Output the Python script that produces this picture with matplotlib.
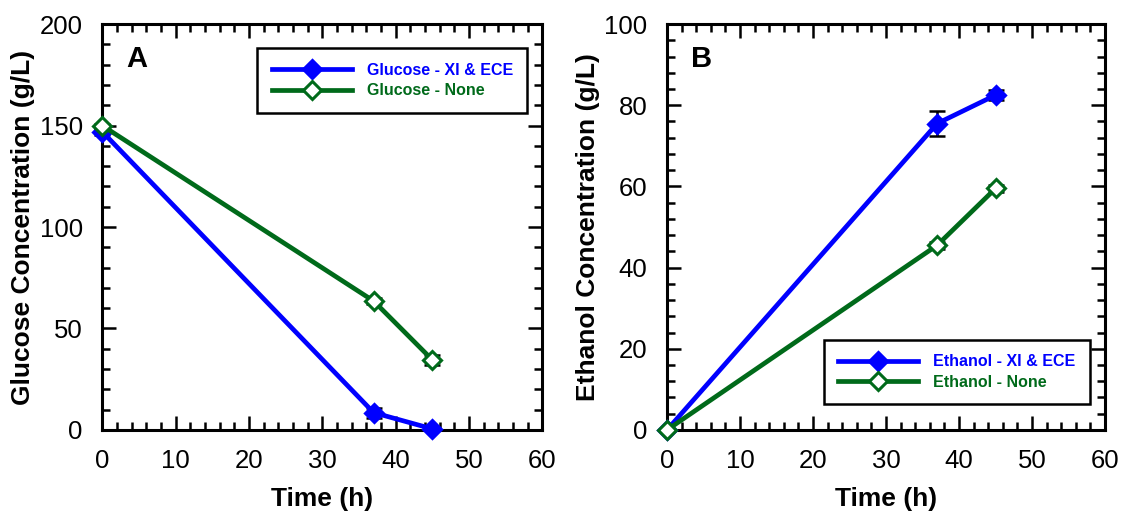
import matplotlib.pyplot as plt
from matplotlib.ticker import MultipleLocator

plt.rcParams["font.family"] = ["Liberation Sans", "DejaVu Sans"]

# Sampling times (h)
time = [0, 37, 45]

# Panel A: glucose (g/L)
glucose_xi = [147, 8.5, 0.5]
glucose_xi_err = [1.5, 2.5, 0.5]
glucose_none = [150, 63.5, 34.5]
glucose_none_err = [1.0, 1.5, 2.5]

# Panel B: ethanol (g/L)
ethanol_xi = [0, 75.5, 82.5]
ethanol_xi_err = [0, 3.0, 1.3]
ethanol_none = [0, 45.5, 59.5]
ethanol_none_err = [0, 0.8, 0.8]

blue = "#0000ff"
green = "#006a1a"

fig = plt.figure(figsize=(11.23, 5.13), dpi=100)
ax_a = fig.add_axes([0.091, 0.162, 0.392, 0.791])
ax_b = fig.add_axes([0.594, 0.162, 0.39, 0.791])


def draw_series(ax, y, err, color, filled, label):
    # error bars first, then the line with markers on top
    ax.errorbar(time, y, yerr=err, fmt="none", ecolor="black",
                elinewidth=1.8, capsize=6, capthick=1.8, clip_on=False, zorder=2)
    ax.plot(time, y, color=color, lw=3.4, marker="D", markersize=9,
            markerfacecolor=color if filled else "white",
            markeredgecolor=color, markeredgewidth=2.2,
            label=label, clip_on=False, zorder=3)


def style_axes(ax, ymax, ymajor, yminor, ylabel, letter):
    ax.set_xlim(0, 60)
    ax.set_ylim(0, ymax)
    ax.xaxis.set_major_locator(MultipleLocator(10))
    ax.xaxis.set_minor_locator(MultipleLocator(2))
    ax.yaxis.set_major_locator(MultipleLocator(ymajor))
    ax.yaxis.set_minor_locator(MultipleLocator(yminor))
    ax.tick_params(which="both", direction="in", top=True, right=True,
                   width=1.8, labelsize=18.5, colors="black")
    ax.tick_params(axis="x", pad=14)
    ax.tick_params(axis="y", pad=14)
    ax.tick_params(which="major", length=10)
    ax.tick_params(which="minor", length=6)
    for s in ax.spines.values():
        s.set_linewidth(2.2)
    ax.set_xlabel("Time (h)", fontsize=19, fontweight="bold", labelpad=10)
    ax.set_ylabel(ylabel, fontsize=19, fontweight="bold", labelpad=3)
    ax.text(0.055, 0.915, letter, transform=ax.transAxes, fontsize=21,
            fontweight="bold", va="center", ha="left")


draw_series(ax_a, glucose_xi, glucose_xi_err, blue, True, "Glucose - XI & ECE")
draw_series(ax_a, glucose_none, glucose_none_err, green, False, "Glucose - None")
style_axes(ax_a, 200, 50, 10, "Glucose Concentration (g/L)", "A")

draw_series(ax_b, ethanol_xi, ethanol_xi_err, blue, True, "Ethanol - XI & ECE")
draw_series(ax_b, ethanol_none, ethanol_none_err, green, False, "Ethanol - None")
style_axes(ax_b, 100, 20, 4, "Ethanol Concentration (g/L)", "B")

legend_spots = [(ax_a, "upper right", (0.984, 0.96)),
                (ax_b, "lower right", (0.984, 0.043))]
for ax, loc, anchor in legend_spots:
    leg = ax.legend(loc=loc, bbox_to_anchor=anchor,
                    fancybox=False, framealpha=1, edgecolor="black",
                    prop={"weight": "bold", "size": 11.5}, handlelength=5.0,
                    borderpad=0.9, labelspacing=0.35, handletextpad=0.95)
    leg.get_frame().set_linewidth(1.8)
    for txt, c in zip(leg.get_texts(), [blue, green]):
        txt.set_color(c)

fig.savefig("out.png", dpi=100)
